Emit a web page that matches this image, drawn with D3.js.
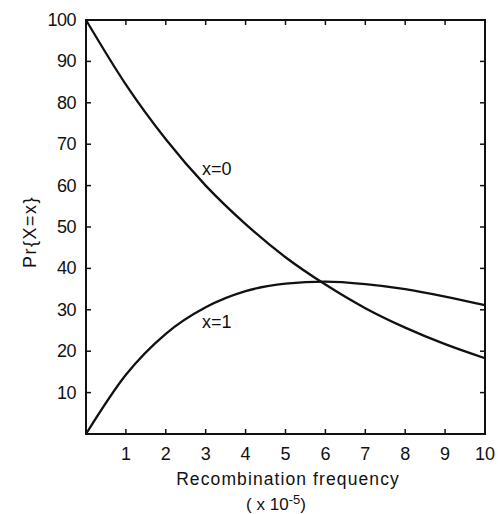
<!DOCTYPE html>
<html>
<head>
<meta charset="utf-8">
<script src="https://cdn.jsdelivr.net/npm/d3@7"></script>
<style>
  body { margin: 0; background: #fff; }
  text { font-family: "Liberation Sans", Arial, sans-serif; fill: #111; }
</style>
</head>
<body>
<div id="vis"></div>
<script>
// recombination frequency (x 10^-5)
const freq = [0, 1, 2, 3, 4, 5, 6, 7, 8, 9, 10];
// Pr{X=0} and Pr{X=1} (percent)
const pr0 = [100, 84.4, 71.2, 60.0, 50.7, 42.7, 36.1, 30.4, 25.7, 21.7, 18.3];
const pr1 = [0, 14.3, 24.2, 30.6, 34.5, 36.3, 36.8, 36.2, 35.0, 33.2, 31.1];
const xTicks = [1, 2, 3, 4, 5, 6, 7, 8, 9, 10];
const yTicks = [10, 20, 30, 40, 50, 60, 70, 80, 90, 100];

const width = 498;
const height = 514;
const mLeft = 86, mRight = 485, mTop = 20, mBottom = 434;

const svg = d3.select('#vis')
    .append('svg')
    .attr('width', width)
    .attr('height', height);

const x = d3.scaleLinear().domain([0, 10]).range([mLeft, mRight]);
const y = d3.scaleLinear().domain([0, 100]).range([mBottom, mTop]);

// frame
svg.append('rect')
    .attr('x', mLeft).attr('y', mTop)
    .attr('width', mRight - mLeft).attr('height', mBottom - mTop)
    .style('fill', 'none').style('stroke', '#111').style('stroke-width', 2);

// inward ticks on all four sides
const tickLen = 5;
svg.selectAll('.xt').data(xTicks.slice(0, -1)).join('line')
    .attr('x1', d => x(d)).attr('x2', d => x(d))
    .attr('y1', mBottom).attr('y2', mBottom - tickLen)
    .style('stroke', '#111').style('stroke-width', 1.5);
svg.selectAll('.xtt').data(xTicks.slice(0, -1)).join('line')
    .attr('x1', d => x(d)).attr('x2', d => x(d))
    .attr('y1', mTop).attr('y2', mTop + tickLen)
    .style('stroke', '#111').style('stroke-width', 1.5);
svg.selectAll('.yt').data(yTicks.slice(0, -1)).join('line')
    .attr('x1', mLeft).attr('x2', mLeft + tickLen)
    .attr('y1', d => y(d)).attr('y2', d => y(d))
    .style('stroke', '#111').style('stroke-width', 1.5);
svg.selectAll('.ytr').data(yTicks.slice(0, -1)).join('line')
    .attr('x1', mRight).attr('x2', mRight - tickLen)
    .attr('y1', d => y(d)).attr('y2', d => y(d))
    .style('stroke', '#111').style('stroke-width', 1.5);

// tick labels
svg.selectAll('.xl').data(xTicks).join('text')
    .attr('x', d => x(d)).attr('y', mBottom + 26)
    .attr('text-anchor', 'middle')
    .style('font-size', '18px')
    .text(d => d);
svg.selectAll('.yl').data(yTicks).join('text')
    .attr('x', mLeft - 10).attr('y', d => y(d) + 6)
    .attr('text-anchor', 'end')
    .style('font-size', '18px')
    .style('letter-spacing', '-0.5px')
    .text(d => d);

// axis titles
svg.append('text')
    .attr('x', 288).attr('y', mBottom + 51)
    .attr('text-anchor', 'middle')
    .style('font-size', '17.5px')
    .style('letter-spacing', '1.1px')
    .text('Recombination   frequency');
const unit = svg.append('text')
    .attr('x', 276).attr('y', mBottom + 76)
    .attr('text-anchor', 'middle')
    .style('font-size', '17px');
unit.append('tspan').text('( x 10');
unit.append('tspan').attr('dy', -6).style('font-size', '13px').text('-5');
unit.append('tspan').attr('dy', 6).text(')');

svg.append('text')
    .attr('transform', 'translate(36,232) rotate(-90)')
    .attr('text-anchor', 'middle')
    .style('font-size', '18px')
    .style('letter-spacing', '1.5px')
    .text('Pr{X=x}');

// curves
const line = d3.line()
    .x((d, i) => x(freq[i]))
    .y(d => y(d))
    .curve(d3.curveMonotoneX);

[pr0, pr1].forEach(s => {
    svg.append('path')
        .attr('d', line(s))
        .style('fill', 'none')
        .style('stroke', '#111')
        .style('stroke-width', 2.3);
});

// curve labels
svg.append('text').attr('x', 202).attr('y', 175)
    .style('font-size', '18px').text('x=0');
svg.append('text').attr('x', 202).attr('y', 328)
    .style('font-size', '18px').text('x=1');
</script>
</body>
</html>
